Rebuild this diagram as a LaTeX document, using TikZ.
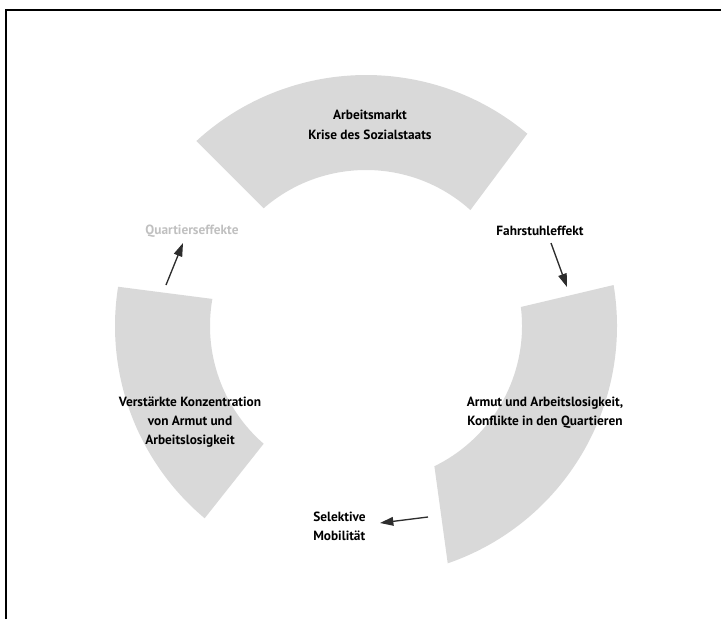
\documentclass[tikz,border=0pt]{standalone}
\usepackage{fontspec}
\setmainfont{PT Sans}
\usetikzlibrary{arrows.meta}
\definecolor{ringgrey}{RGB}{217,217,217}
\definecolor{fadegrey}{RGB}{192,192,192}
\definecolor{arrowgrey}{RGB}{45,45,45}
\begin{document}
\begin{tikzpicture}[x=0.75pt,y=0.75pt,yscale=-1,
	ringseg/.style={fill=ringgrey},
	cyctext/.style={font=\fontsize{10}{14.5}\selectfont\bfseries, align=center, text=black, inner sep=0pt},
	cycarrow/.style={draw=arrowgrey, line width=1pt, -{Triangle[length=10pt,width=6.5pt]}}]
	\useasboundingbox (0,0) rectangle (721,619);

	%Frame
	\draw [line width=1.1pt]   (6,619) -- (6,10) -- (721,10) ;

	%Ring segments
	\begin{scope}[shift={(366,326)},yscale=-1]
	\fill [ringseg]  (50:251) arc [start angle=50, end angle=132.5, radius=251] -- (131:156) arc [start angle=131, end angle=48, radius=156] -- cycle ;
	\fill [ringseg]  (9.4:251) arc [start angle=9.4, end angle=-71, radius=251] -- (-64:156) arc [start angle=-64, end angle=7, radius=156] -- cycle ;
	\fill [ringseg]  (171:251) arc [start angle=171, end angle=230, radius=251] -- (229:156) arc [start angle=229, end angle=170, radius=156] -- cycle ;
	\end{scope}

	% Text Node
	\node [cyctext] (markt) at (370,125) {Arbeitsmarkt\\Krise des Sozialstaats};
	% Text Node
	\node [cyctext, text=fadegrey] (quartier) at (192,231) {Quartierseffekte};
	% Text Node
	\node [cyctext] (fahrstuhl) at (540,231) {Fahrstuhleffekt};
	% Text Node
	\node [cyctext] (armut) at (545,413) {Armut und Arbeitslosigkeit,\\Konflikte in den Quartieren};
	% Text Node
	\node [cyctext, align=left, anchor=west] (mobil) at (313,526) {Selektive\\Mobilität};
	% Text Node
	\node [cyctext] (konzentration) at (190,422) {Verstärkte Konzentration\\von Armut und\\Arbeitslosigkeit};

	%Arrows
	\coordinate (q0) at (166,285);
	\coordinate (q1) at (183,243);
	\draw [cycarrow]   (q0) -- (q1) ;
	\coordinate (f0) at (551,243);
	\coordinate (f1) at (567,287);
	\draw [cycarrow]   (f0) -- (f1) ;
	\coordinate (m0) at (428,517);
	\coordinate (m1) at (380,523);
	\draw [cycarrow]   (m0) -- (m1) ;
\end{tikzpicture}
\end{document}
